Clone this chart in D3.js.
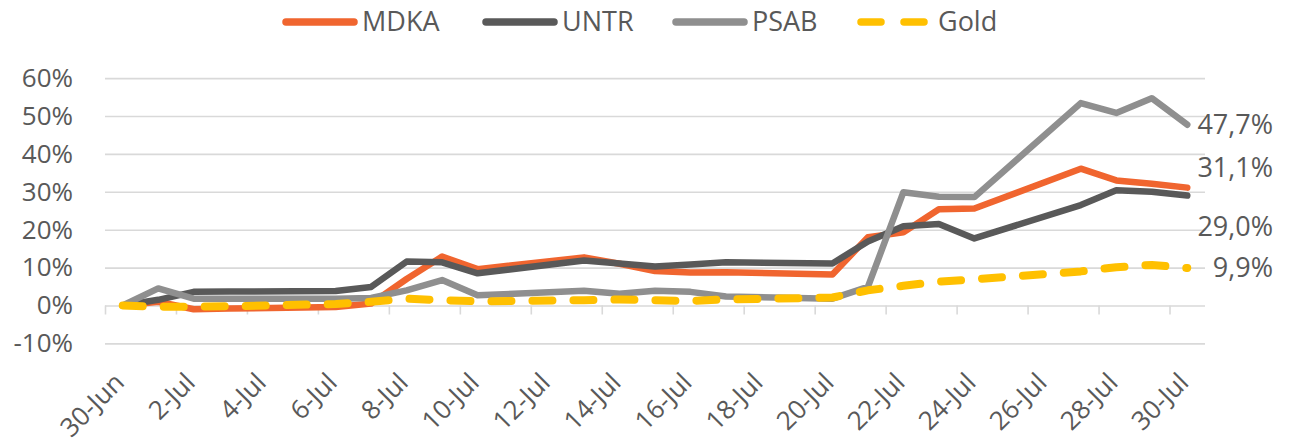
<!DOCTYPE html>
<html>
<head>
<meta charset="utf-8">
<script src="https://cdn.jsdelivr.net/npm/d3@7"></script>
<style>
  html, body { margin: 0; padding: 0; background: #fff; }
  svg { display: block; font-family: 'Open Sans', sans-serif; }
</style>
</head>
<body>
<svg id="chart" width="1293" height="443"></svg>
<script>
// trading days shown on the chart
const dates = ["2020-06-30","2020-07-01","2020-07-02","2020-07-03","2020-07-06","2020-07-07",
  "2020-07-08","2020-07-09","2020-07-10","2020-07-13","2020-07-14","2020-07-15","2020-07-16",
  "2020-07-17","2020-07-20","2020-07-21","2020-07-22","2020-07-23","2020-07-24","2020-07-27",
  "2020-07-28","2020-07-29","2020-07-30"];

// cumulative return, in %
const mdka = [0, 1.0, -1.0, -0.8, -0.4, 0.5, 7.0, 12.9, 9.6, 12.7, 11.0, 9.1, 8.7, 8.8, 8.2, 18.0, 19.3, 25.4, 25.6, 36.1, 33.0, 32.1, 31.1];
const untr = [0, 1.5, 3.6, 3.7, 3.8, 4.9, 11.6, 11.4, 8.5, 11.9, 11.1, 10.3, 10.8, 11.4, 11.1, 16.9, 20.9, 21.5, 17.7, 26.5, 30.4, 30.0, 29.0];
const psab = [0, 4.5, 1.8, 1.8, 1.8, 2.0, 4.0, 6.7, 2.7, 3.9, 3.1, 3.9, 3.6, 2.4, 1.8, 4.9, 29.9, 28.7, 28.6, 53.4, 50.8, 54.7, 47.7];
const gold = [0, -0.3, -0.3, -0.2, 0.4, 1.0, 1.8, 1.4, 1.1, 1.4, 1.6, 1.4, 1.2, 1.6, 2.1, 4.0, 5.2, 6.3, 6.9, 9.0, 10.1, 10.7, 9.9];

const seriesNames = ["MDKA", "UNTR", "PSAB", "Gold"];
const yTicks = [-10, 0, 10, 20, 30, 40, 50, 60];
const xTickDates = ["2020-06-30","2020-07-02","2020-07-04","2020-07-06","2020-07-08","2020-07-10",
  "2020-07-12","2020-07-14","2020-07-16","2020-07-18","2020-07-20","2020-07-22","2020-07-24",
  "2020-07-26","2020-07-28","2020-07-30"];

const parse = d3.utcParse("%Y-%m-%d");
const DAY = 864e5;

const styles = {
  MDKA: { color: "#F0652F", width: 6.5, dash: null, nudge: -20 },
  UNTR: { color: "#595959", width: 6.5, dash: null, nudge: 31 },
  PSAB: { color: "#8F8F8F", width: 6.5, dash: null, nudge: 0 },
  Gold: { color: "#FFC000", width: 8, dash: "20,21", nudge: 0 }
};

const series = [mdka, untr, psab, gold].map((vals, i) => ({
  name: seriesNames[i],
  values: vals.map((v, j) => ({ date: parse(dates[j]), value: v }))
}));

const svg = d3.select("#chart");
const textColor = "#595959";

// scales - each day is a slot, points sit in the middle of their slot
const x = d3.scaleUtc()
  .domain([parse("2020-06-30"), parse("2020-07-31")])
  .range([105, 1205]);
const y = d3.scaleLinear().domain([-10, 60]).range([343.4, 78.1]);
const xMid = d => x(new Date(d.getTime() + DAY / 2));

// gridlines + y labels
const yAxis = d3.axisLeft(y)
  .tickValues(yTicks)
  .tickSize(-(1205 - 105))
  .tickPadding(32)
  .tickFormat(d => d + "%");
const gy = svg.append("g").attr("transform", "translate(105,0)").call(yAxis);
gy.select(".domain").remove();
gy.selectAll(".tick line").attr("stroke", "#D9D9D9").attr("stroke-width", 1.6);
gy.selectAll(".tick text").attr("fill", textColor).style("font-size", "26px")
  .style("font-family", "'Open Sans', sans-serif");

// tick marks on the 0% line
const xAxis = d3.axisBottom(x)
  .tickValues(xTickDates.map(parse))
  .tickSizeInner(9).tickSizeOuter(0)
  .tickFormat("");
const gx = svg.append("g").attr("transform", `translate(0,${y(0)})`).call(xAxis);
gx.select(".domain").remove();
gx.selectAll(".tick line").attr("stroke", "#D9D9D9").attr("stroke-width", 1.6);

// rotated date labels centred on each day slot
const fmtDate = d3.utcFormat("%-d-%b");
svg.append("g").selectAll("text")
  .data(xTickDates.map(parse))
  .join("text")
  .attr("transform", d => `translate(${xMid(d) + 3},384) rotate(-45)`)
  .attr("text-anchor", "end")
  .attr("fill", textColor)
  .style("font-size", "26px")
  .text(fmtDate);

// lines
const line = d3.line()
  .x(d => xMid(d.date))
  .y(d => y(d.value));

svg.append("g").selectAll("path")
  .data(series)
  .join("path")
  .attr("d", d => line(d.values))
  .attr("fill", "none")
  .attr("stroke", d => styles[d.name].color)
  .attr("stroke-width", d => styles[d.name].width)
  .attr("stroke-dasharray", d => styles[d.name].dash)
  .attr("stroke-linejoin", "round")
  .attr("stroke-linecap", "round");

// end labels with comma decimals
const fmtPct = d3.formatLocale({ decimal: ",", thousands: ".", grouping: [3], currency: ["", ""], minus: "-" }).format(".1f");
svg.append("g").selectAll("text")
  .data(series)
  .join("text")
  .attr("x", 1273)
  .attr("y", d => y(d.values[d.values.length - 1].value) + styles[d.name].nudge)
  .attr("dy", "0.35em")
  .attr("text-anchor", "end")
  .attr("fill", textColor)
  .style("font-size", "27px")
  .text(d => fmtPct(d.values[d.values.length - 1].value) + "%");

// legend
const legendX = [282, 482, 672, 857];
const legend = svg.append("g").selectAll("g")
  .data(series)
  .join("g")
  .attr("transform", (d, i) => `translate(${legendX[i]},22)`);
legend.append("line")
  .attr("x1", 4).attr("x2", d => d.name === "Gold" ? 68 : 72)
  .attr("stroke", d => styles[d.name].color)
  .attr("stroke-width", 7.5)
  .attr("stroke-linecap", "round")
  .attr("stroke-dasharray", d => d.name === "Gold" ? "20,23" : null);
legend.append("text")
  .attr("x", d => d.name === "Gold" ? 81 : 80)
  .attr("dy", "0.35em")
  .attr("fill", textColor)
  .style("font-size", "27px")
  .text(d => d.name);
</script>
</body>
</html>
